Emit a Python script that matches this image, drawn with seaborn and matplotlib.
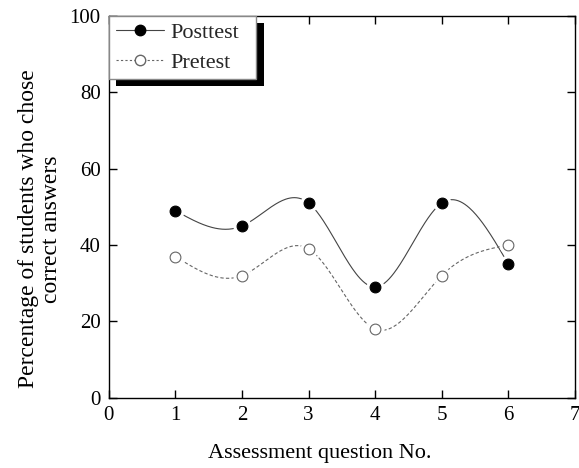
import numpy as np
import matplotlib
matplotlib.use("Agg")
import matplotlib.pyplot as plt
import matplotlib.patheffects as pe
from matplotlib.lines import Line2D
import seaborn as sns
import pandas as pd

# data
questions = [1, 2, 3, 4, 5, 6]
posttest = [49, 45, 51, 29, 51, 35]
pretest = [37, 32, 39, 18, 32, 40]


def natural_spline(x, y, num=300):
    # smooth curve through the points, like the original's spline line
    x = np.asarray(x, float)
    y = np.asarray(y, float)
    n = len(x)
    h = np.diff(x)
    A = np.zeros((n, n))
    b = np.zeros(n)
    A[0, 0] = A[-1, -1] = 1
    for i in range(1, n - 1):
        A[i, i - 1] = h[i - 1]
        A[i, i] = 2 * (h[i - 1] + h[i])
        A[i, i + 1] = h[i]
        b[i] = 3 * ((y[i + 1] - y[i]) / h[i] - (y[i] - y[i - 1]) / h[i - 1])
    c = np.linalg.solve(A, b)
    bb = (y[1:] - y[:-1]) / h - h * (2 * c[:-1] + c[1:]) / 3
    d = (c[1:] - c[:-1]) / (3 * h)
    xs = np.linspace(x[0], x[-1], num)
    idx = np.clip(np.searchsorted(x, xs) - 1, 0, n - 2)
    dx = xs - x[idx]
    ys = y[idx] + bb[idx] * dx + c[idx] * dx ** 2 + d[idx] * dx ** 3
    return xs, ys


sns.set_theme(style="ticks")
plt.rcParams['font.family'] = ['Liberation Serif', 'DejaVu Serif']

df = pd.DataFrame({'Question': questions, 'Posttest': posttest, 'Pretest': pretest})

fig = plt.figure(figsize=(5.79, 4.68), dpi=100)
ax = fig.add_axes([0.188, 0.150, 0.805, 0.816])

# smooth lines
xs, ys = natural_spline(df['Question'], df['Posttest'])
ax.plot(xs, ys, color='#444444', lw=0.8, ls='-', zorder=2)
xs, ys = natural_spline(df['Question'], df['Pretest'])
ax.plot(xs, ys, color='#666666', lw=0.8, ls=(0, (3, 2)), zorder=2)

# white halos so the lines stop short of the markers
ax.scatter(df['Question'], df['Posttest'], s=170, color='white', zorder=3, linewidths=0)
ax.scatter(df['Question'], df['Pretest'], s=170, color='white', zorder=3, linewidths=0)

sns.scatterplot(data=df, x='Question', y='Posttest', ax=ax, s=60, color='black',
                edgecolor='black', linewidth=0.8, zorder=4, legend=False)
sns.scatterplot(data=df, x='Question', y='Pretest', ax=ax, s=60, color='white',
                edgecolor='#666666', linewidth=0.8, zorder=4, legend=False)

ax.set_xlim(0, 7)
ax.set_ylim(0, 100)
ax.set_xticks(range(0, 8))
ax.set_yticks(range(0, 101, 20))
ax.tick_params(direction='in', length=6, width=1, top=True, right=True,
               labelsize=15, color='black', labelcolor='black', pad=6)
for s in ax.spines.values():
    s.set_linewidth(1.0)
    s.set_color('black')
    s.set_visible(True)

ax.set_xlabel('Assessment question No.', fontsize=16, color='black')
ax.xaxis.set_label_coords(0.453, -0.122)
ax.set_ylabel('Percentage of students who chose\ncorrect answers', fontsize=17,
              color='black', linespacing=1.1)
ax.yaxis.set_label_coords(-0.101, 0.442)

handles = [
    Line2D([], [], color='#444444', lw=0.8, marker='o', markersize=7.5,
           markerfacecolor='black', markeredgecolor='black'),
    Line2D([], [], color='#666666', lw=0.8, ls=(0, (2, 2)), marker='o', markersize=7.5,
           markerfacecolor='white', markeredgecolor='#666666'),
]
leg = ax.legend(handles, ['Posttest', 'Pretest'], loc='upper left',
                bbox_to_anchor=(0, 0.80, 0.3155, 0.20), mode='expand', borderaxespad=0,
                fontsize=16, frameon=True, fancybox=False, handlelength=2.16,
                handletextpad=0.32, borderpad=0.3, labelspacing=0.4, numpoints=1)
frame = leg.get_frame()
frame.set_edgecolor('#888888')
frame.set_linewidth(1.0)
frame.set_alpha(1)
frame.set_path_effects([pe.SimplePatchShadow(offset=(5.5, -5), shadow_rgbFace='black', alpha=1),
                        pe.Normal()])
leg.set_zorder(10)

fig.savefig('out.png', dpi=100)
